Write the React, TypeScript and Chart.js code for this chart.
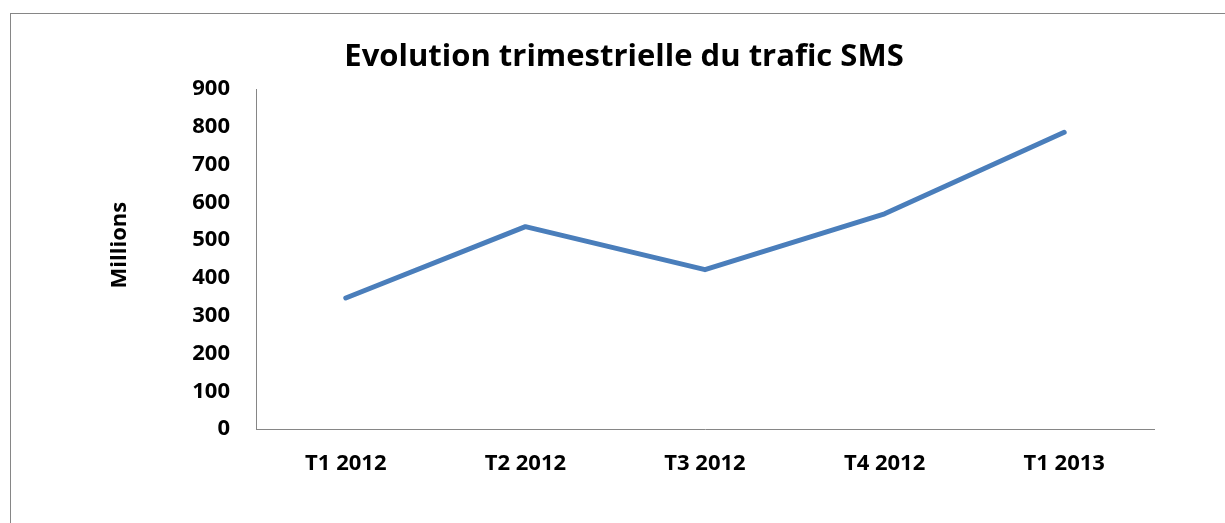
import React, { useEffect, useRef } from "react";
import { Chart, registerables } from "chart.js";

Chart.register(...registerables);

const categories = ["T1 2012", "T2 2012", "T3 2012", "T4 2012", "T1 2013"];
const smsTraffic = [347, 536, 422, 570, 786];
const yTicks = [0, 100, 200, 300, 400, 500, 600, 700, 800, 900];

const FONT = "'Open Sans', 'Noto Sans', sans-serif";

const yTitlePlugin = {
  id: "yTitle",
  afterDraw(chart: any) {
    const { ctx, chartArea } = chart;
    ctx.save();
    ctx.font = `bold 22px ${FONT}`;
    ctx.fillStyle = "#000";
    ctx.textAlign = "center";
    ctx.textBaseline = "middle";
    const cy = (chartArea.top + chartArea.bottom) / 2 - 14;
    ctx.translate(109, cy);
    ctx.rotate(-Math.PI / 2);
    ctx.fillText("Millions", 0, 0);
    ctx.restore();
  },
};

export default function App() {
  const ref = useRef<HTMLCanvasElement | null>(null);

  useEffect(() => {
    document.body.style.margin = "0";
    document.body.style.overflow = "hidden";
    const canvas = ref.current;
    if (!canvas) return;
    const chart = new Chart(canvas, {
      type: "line",
      data: {
        labels: categories,
        datasets: [
          {
            label: "Trafic SMS",
            data: smsTraffic,
            borderColor: "#4A7EBB",
            backgroundColor: "#4A7EBB",
            borderWidth: 5,
            borderCapStyle: "round",
            borderJoinStyle: "round",
            pointRadius: 0,
            pointHoverRadius: 0,
            tension: 0,
            fill: false,
            yAxisID: "y",
          },
        ],
      },
      plugins: [yTitlePlugin],
      options: {
        responsive: false,
        animation: false,
        events: [],
        layout: { padding: 0 },
        plugins: {
          legend: { display: false },
          tooltip: { enabled: false },
          title: {
            display: true,
            text: "Evolution trimestrielle du trafic SMS",
            color: "#000",
            font: { family: FONT, size: 31, weight: "bold" },
            padding: { top: 25, bottom: 13 },
          },
        },
        scales: {
          x: {
            type: "category",
            offset: true,
            grid: { color: "transparent", drawTicks: false, offset: true },
            border: { color: "#868686", width: 1 },
            ticks: {
              color: "#000",
              font: { family: FONT, size: 22, weight: "bold" },
              padding: 22,
              maxRotation: 0,
              autoSkip: false,
            },
            afterFit: (scale: any) => {
              scale.height = 94;
            },
          },
          y: {
            min: 0,
            max: 900,
            grid: { color: "transparent", drawTicks: false },
            border: { color: "#868686", width: 1 },
            afterBuildTicks: (scale: any) => {
              scale.ticks = yTicks.map((v) => ({ value: v }));
            },
            ticks: {
              color: "#000",
              font: { family: FONT, size: 22, weight: "bold" },
              padding: 26,
            },
            afterFit: (scale: any) => {
              scale.width = 245;
            },
          },
          spacer: {
            type: "linear",
            position: "right",
            display: true,
            grid: { display: false, drawTicks: false },
            border: { display: false },
            ticks: { display: false },
            afterFit: (scale: any) => {
              scale.width = 83;
            },
          },
        },
      },
    });
    return () => chart.destroy();
  }, []);

  return (
    <div style={{ position: "fixed", left: 0, top: 0, width: 1225, height: 523, overflow: "hidden", background: "#fff" }}>
      <div
        style={{
          position: "absolute",
          left: 10,
          top: 13,
          width: 1300,
          height: 600,
          borderLeft: "1px solid #868686",
          borderTop: "1px solid #868686",
        }}
      >
        <canvas ref={ref} width={1226} height={509} style={{ display: "block" }} />
      </div>
    </div>
  );
}
